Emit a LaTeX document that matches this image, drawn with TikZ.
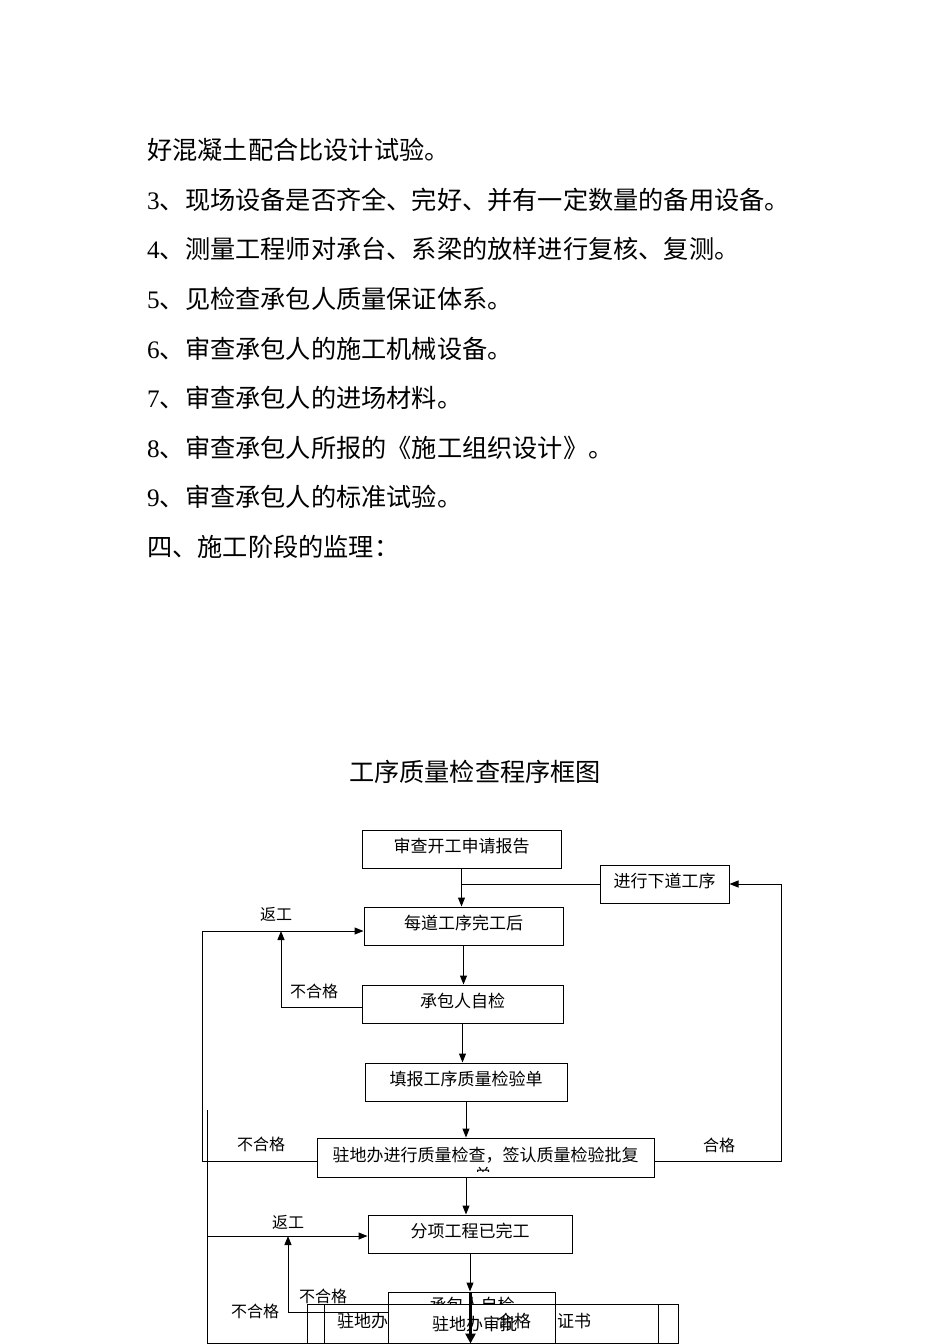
\documentclass[tikz,border=0pt]{standalone}
\usepackage{fontspec}
\setmainfont{Liberation Serif}
\newfontfamily\cjk{Noto Sans CJK SC}
\usetikzlibrary{arrows.meta}

\begin{document}
\begin{tikzpicture}[x=1pt, y=-1pt,
        every node/.style={font=\cjk\fontsize{17}{20}\selectfont, inner sep=0pt},
        body/.style={anchor=west, font=\cjk\fontsize{25.2}{30}\selectfont},
        plate/.style={draw, line width=1pt, fill=white, minimum height=38pt},
        block/.style={plate, text height=12pt, text depth=5pt},
        lbl/.style={font=\cjk\fontsize{16}{19}\selectfont},
        arrow/.style={-{Triangle[length=9pt, width=7pt]}, line width=1pt},
        fat/.style={-{Triangle[length=10pt, width=10pt]}, line width=3pt},
        line/.style={line width=1pt}
    ]
        \useasboundingbox (0,0) rectangle (950,1344);
        \clip (0,0) rectangle (950,1344);

        % running text above the chart
        \node[body] (line1) at (147,150) {好混凝土配合比设计试验。};
        \node[body] (line2) at (147,199.6) {\textrm{3}、现场设备是否齐全、完好、并有一定数量的备用设备。};
        \node[body] (line3) at (147,249.2) {\textrm{4}、测量工程师对承台、系梁的放样进行复核、复测。};
        \node[body] (line4) at (147,298.8) {\textrm{5}、见检查承包人质量保证体系。};
        \node[body] (line5) at (147,348.4) {\textrm{6}、审查承包人的施工机械设备。};
        \node[body] (line6) at (147,398) {\textrm{7}、审查承包人的进场材料。};
        \node[body] (line7) at (147,447.6) {\textrm{8}、审查承包人所报的《施工组织设计》。};
        \node[body] (line8) at (147,497.2) {\textrm{9}、审查承包人的标准试验。};
        \node[body] (line9) at (147,546.8) {四、施工阶段的监理：};

        \node[font=\cjk\fontsize{25.2}{30}\selectfont] (title) at (475,772) {工序质量检查程序框图};

        % chart boxes
        \node[block, minimum width=199pt] (check) at (461.5,849) {审查开工申请报告};
        \node[block, minimum width=129pt] (next) at (664.5,884) {进行下道工序};
        \node[block, minimum width=199pt] (done) at (463.5,926) {每道工序完工后};
        \node[block, minimum width=201pt] (self) at (462.5,1004) {承包人自检};
        \node[block, minimum width=202pt] (fill) at (466,1082) {填报工序质量检验单};
        \node[block, minimum width=337pt, minimum height=39pt] (resident) at (485.5,1157.5) {驻地办进行质量检查，签认质量检验批复};
        \begin{scope}
            \clip (318,1140) rectangle (653,1171);
            \node (dan) at (483,1175) {单};
        \end{scope}
        \node[block, minimum width=204pt] (part) at (470,1234) {分项工程已完工};

        % overlapping boxes at the foot of the page
        \node[plate, minimum width=167pt, minimum height=26pt] (self2) at (472,1305) {承包人自检};
        \node[plate, minimum width=371pt, minimum height=39pt] (cert) at (492.5,1323.5) {};
        \node[plate, minimum width=334pt, minimum height=39pt] (certin) at (491,1323.5) {};
        \node[plate, minimum width=167pt, minimum height=39pt] (approve) at (472,1323.5) {\hspace{5pt}驻地办审批};
        \node[anchor=west] (cert1) at (337,1321) {驻地办};
        \node[anchor=west] (cert2) at (557,1321) {证书};
        \node (pass2) at (514,1321) {合格};

        % labels
        \node[lbl] (rework1) at (276,914) {返工};
        \node[lbl] (fail1) at (314,991) {不合格};
        \node[lbl] (fail2) at (261,1144) {不合格};
        \node[lbl] (pass1) at (719,1145) {合格};
        \node[lbl] (rework2) at (288,1222) {返工};
        \node[lbl] (fail3) at (323,1296) {不合格};
        \node[lbl] (fail4) at (255,1311) {不合格};

        % corners of the loops
        \coordinate (loopA) at (202,1161);
        \coordinate (loopB) at (202,931);
        \coordinate (loopC) at (781,1161);
        \coordinate (loopD) at (207,1110);
        \coordinate (loopE) at (207,1343);
        \coordinate (upA) at (281,931);
        \coordinate (upB) at (288,1236);

        % main line
        \draw[arrow] (check.south) -- (check.south |- done.north);
        \draw[line] (next.west) -- (next.west -| check.south);
        \draw[arrow] (done.south) -- (done.south |- self.north);
        \draw[arrow] (self.south) -- (self.south |- fill.north);
        \draw[arrow] (fill.south) -- (fill.south |- resident.north);
        \draw[arrow] (resident.south -| fill.south) -- (fill.south |- part.north);
        \draw[arrow] (part.south) -- (part.south |- self2.north);
        \draw[fat] ([xshift=-1.5pt]self2.north) -- ([xshift=-1.5pt]approve.south);

        % loops
        \draw[arrow] ([yshift=-3.5pt]resident.west) -- (loopA) -- (loopB) -- ([yshift=-5pt]done.west);
        \draw[arrow] ([yshift=-3pt]self.west) -| (upA);
        \draw[arrow] ([yshift=-3.5pt]resident.east) -- (loopC) |- (next.east);
        \draw[line] (loopD) -- (loopE) -- (loopE -| cert.west);
        \draw[arrow] ([yshift=-2pt]loopD |- part.west) -- ([yshift=-2pt]part.west);
        \draw[arrow] ([yshift=-7pt]self2.west) -| (upB);
    \end{tikzpicture}
\end{document}
